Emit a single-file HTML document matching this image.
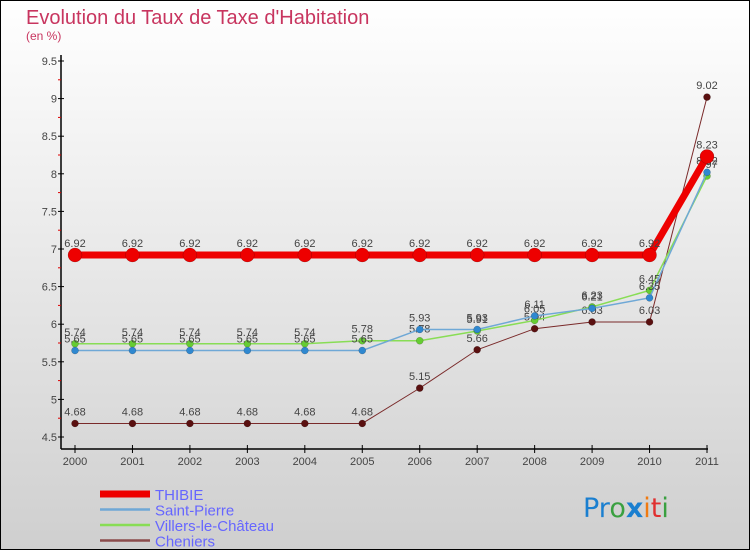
<!DOCTYPE html>
<html><head><meta charset="utf-8"><style>
body{margin:0;width:750px;height:550px;overflow:hidden;font-family:"Liberation Sans",sans-serif}
svg{display:block}
</style></head><body>
<svg id="chart" width="750" height="550" xmlns="http://www.w3.org/2000/svg">
<defs><linearGradient id="bg" x1="0" y1="0" x2="0" y2="1"><stop offset="0" stop-color="#ffffff"/><stop offset="1" stop-color="#cfcfcf"/></linearGradient></defs>
<rect x="0.5" y="0.5" width="749" height="549" fill="url(#bg)" stroke="#000"/>
<text x="26" y="24" font-size="20" fill="#c8355f">Evolution du Taux de Taxe d'Habitation</text>
<text x="26" y="40" font-size="12" fill="#c8355f">(en %)</text>
<g id="axes"></g><g id="series"></g><g id="legend"></g>
<text x="583" y="517" font-size="27" font-family="'DejaVu Sans',sans-serif"><tspan fill="#1a7fd0">Pr</tspan><tspan fill="#3aa040">o</tspan><tspan fill="#1a7fd0" font-weight="bold">x</tspan><tspan fill="#f07a10">i</tspan><tspan fill="#e03030">t</tspan><tspan fill="#3aa040">i</tspan></text>
</svg>
<script>
const years=[2000,2001,2002,2003,2004,2005,2006,2007,2008,2009,2010,2011];
const yTicks=[4.5,5,5.5,6,6.5,7,7.5,8,8.5,9,9.5];
const seriesNames=["THIBIE","Saint-Pierre","Villers-le-Château","Cheniers"];
const thibie=[6.92,6.92,6.92,6.92,6.92,6.92,6.92,6.92,6.92,6.92,6.92,8.23];
const saintPierre=[5.65,5.65,5.65,5.65,5.65,5.65,5.93,5.93,6.11,6.21,6.35,8.02];
const villers=[5.74,5.74,5.74,5.74,5.74,5.78,5.78,5.91,6.05,6.23,6.45,7.97];
const cheniers=[4.68,4.68,4.68,4.68,4.68,4.68,5.15,5.66,5.94,6.03,6.03,9.02];
const NS="http://www.w3.org/2000/svg";
const X=i=>75+i*(707-75)/11;
const Y=v=>61+(9.5-v)*75.2;
function mk(t,a,p){const e=document.createElementNS(NS,t);for(const k in a)e.setAttribute(k,a[k]);p.appendChild(e);return e;}
const ax=document.getElementById('axes');
let l=mk('line',{x1:61,y1:55,x2:61,y2:449,stroke:'#000','stroke-width':1.5},ax);


l=mk('line',{x1:61,y1:449,x2:708,y2:449,stroke:'#000','stroke-width':1.5},ax);


yTicks.forEach((v,i)=>{
 mk('line',{x1:58,y1:Y(v),x2:64,y2:Y(v),stroke:'#000'},ax);
 if(i<yTicks.length-1)mk('line',{x1:58,y1:Y(v+0.25),x2:61,y2:Y(v+0.25),stroke:'#d00'},ax);
 const t=mk('text',{x:57,y:Y(v)+4,'font-size':11,fill:'#444','text-anchor':'end'},ax);
 t.textContent=String(v);
 
 
});
years.forEach((y,i)=>{
 mk('line',{x1:X(i),y1:445,x2:X(i),y2:453,stroke:'#000'},ax);
 const t=mk('text',{x:X(i),y:465,'font-size':11,fill:'#444','text-anchor':'middle'},ax);
 t.textContent=y;
 
 
});
const sg=document.getElementById('series');
const defs=[[cheniers,'#7a2a2a','#5a1010',1,3.5,'cheniers'],[villers,'#88dd55','#66cc33',1.5,3.5,'villers'],[saintPierre,'#6fa8d6','#2f88d0',1.5,3.5,'saint-pierre'],[thibie,'#ee0000','#ee0000',7,7,'thibie']];
defs.forEach(([d,lc,pc,w,r,n])=>{
 const g=mk('g',{},sg);
 
 
 const p=mk('polyline',{points:d.map((v,i)=>X(i)+','+Y(v)).join(' '),fill:'none',stroke:lc,'stroke-width':w},g);
 
 
 d.forEach((v,i)=>{
  const c=mk('circle',{cx:X(i),cy:Y(v),r:r,fill:pc,stroke:'rgba(0,0,0,0.3)','stroke-width':0.5},g);
  
  
  const t=mk('text',{x:X(i),y:Y(v)-8,'font-size':11,fill:'#444','text-anchor':'middle'},g);
  t.textContent=String(v);
  
  
 });
});
const lg=document.getElementById('legend');
const lcol=['#ee0000','#6fa8d6','#88dd55','#8a4a4a'];const lw=[7,2.5,2.5,2.5];
seriesNames.forEach((n,i)=>{
 const y=494+i*15.5;
 const g=mk('g',{},lg);
 
 
 mk('line',{x1:100,y1:y,x2:150,y2:y,stroke:lcol[i],'stroke-width':lw[i]},g);
 const t=mk('text',{x:155,y:y+6,'font-size':15,fill:'#6666ff'},g);
 t.textContent=n;
 
 
});
</script>
</body></html>
